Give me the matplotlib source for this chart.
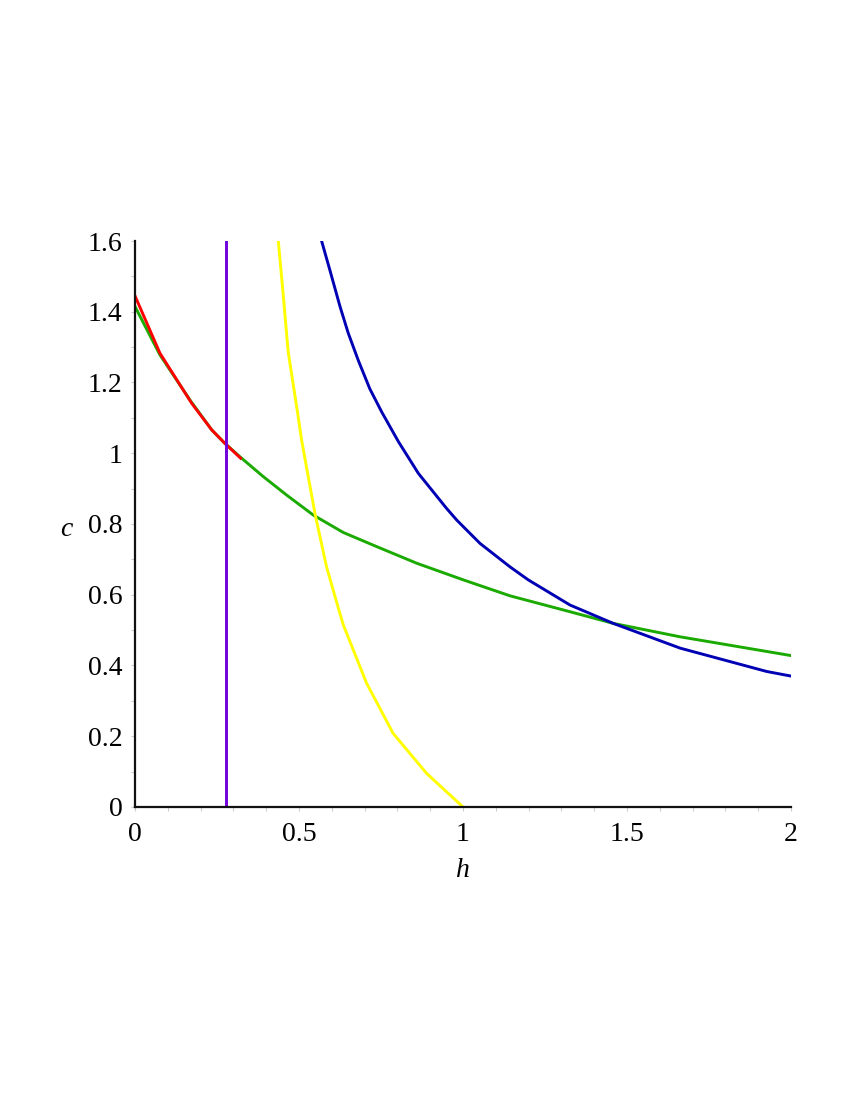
#curves c(h)

import matplotlib
matplotlib.use("Agg")
import matplotlib.pyplot as plt
from matplotlib.ticker import MultipleLocator, FixedLocator

# red curve (short branch near h=0)
red_h = [0, 0.076, 0.173, 0.234, 0.274, 0.322]
red_c = [1.445, 1.283, 1.141, 1.066, 1.028, 0.986]

# green curve
green_h = [0, 0.076, 0.168, 0.234, 0.274, 0.325, 0.391, 0.462, 0.544, 0.635,
           0.737, 0.859, 1.001, 1.143, 1.326, 1.458, 1.662, 2.0]
green_c = [1.415, 1.278, 1.150, 1.066, 1.028, 0.986, 0.934, 0.882, 0.825, 0.776,
           0.736, 0.689, 0.642, 0.597, 0.552, 0.519, 0.481, 0.428]

# blue curve
blue_h = [0.569, 0.595, 0.625, 0.650, 0.681, 0.716, 0.752, 0.803, 0.864, 0.950,
          0.981, 1.011, 1.052, 1.143, 1.199, 1.326, 1.458, 1.662, 1.926, 2.0]
blue_c = [1.6, 1.515, 1.415, 1.340, 1.262, 1.182, 1.117, 1.033, 0.943, 0.844,
          0.811, 0.783, 0.745, 0.679, 0.642, 0.571, 0.519, 0.449, 0.383, 0.370]

# yellow curve
yellow_h = [0.437, 0.452, 0.467, 0.496, 0.508, 0.549, 0.584, 0.620, 0.635, 0.706,
            0.787, 0.889, 1.0]
yellow_c = [1.6, 1.447, 1.287, 1.113, 1.037, 0.828, 0.679, 0.562, 0.515, 0.350,
            0.208, 0.095, 0.0]

# vertical line
h_vert = 0.277

xticks = [0, 0.5, 1, 1.5, 2]
xticklabels = ["0", "0.5", "1", "1.5", "2"]
yticks = [0, 0.2, 0.4, 0.6, 0.8, 1.0, 1.2, 1.4, 1.6]
yticklabels = ["0", "0.2", "0.4", "0.6", "0.8", "1", "1.2", "1.4", "1.6"]

serif = 'Liberation Serif'
plt.rcParams['font.family'] = 'serif'
plt.rcParams['font.serif'] = [serif, 'DejaVu Serif']

fig = plt.figure(figsize=(8.5, 11), dpi=100)
ax = fig.add_axes([0.1588, 0.2664, 0.7718, 0.5145])

lw = 2.1
ax.plot(green_h, green_c, color='#1aaa00', lw=lw, zorder=3)
ax.plot(red_h, red_c, color='#ff0000', lw=lw, zorder=4)
ax.plot(blue_h, blue_c, color='#0000b4', lw=lw, zorder=3)
ax.plot(yellow_h, yellow_c, color='#ffff00', lw=lw, zorder=3)
ax.axvline(x=h_vert, color='#7000dc', lw=lw, zorder=5)

ax.set_xlim(0, 2)
ax.set_ylim(0, 1.6)

#axes spines: only left and bottom
for s in ['top', 'right']:
    ax.spines[s].set_visible(False)
for s in ['left', 'bottom']:
    ax.spines[s].set_linewidth(1.6)
    ax.spines[s].set_color('#111111')
    ax.spines[s].set_zorder(6)

ax.xaxis.set_major_locator(FixedLocator(xticks))
ax.set_xticklabels(xticklabels, fontfamily=serif)
ax.yaxis.set_major_locator(FixedLocator(yticks))
ax.set_yticklabels(yticklabels, fontfamily=serif)
ax.xaxis.set_minor_locator(MultipleLocator(0.1))
ax.yaxis.set_minor_locator(MultipleLocator(0.1))

ax.tick_params(which='major', length=3, width=0.8, color='#cccccc',
               labelsize=20)
ax.tick_params(axis='x', which='major', pad=8)
ax.tick_params(axis='y', which='major', pad=6)
ax.tick_params(which='minor', length=3, width=0.8, color='#cccccc')

ax.set_xlabel('h', fontsize=20, style='italic', fontfamily=serif, labelpad=8)
ax.set_ylabel('c', fontsize=20, style='italic', fontfamily=serif, rotation=0,
              ha='center', va='center')
ax.yaxis.set_label_coords(-0.105, 0.49)

fig.savefig('out.png', dpi=100, facecolor='white')
